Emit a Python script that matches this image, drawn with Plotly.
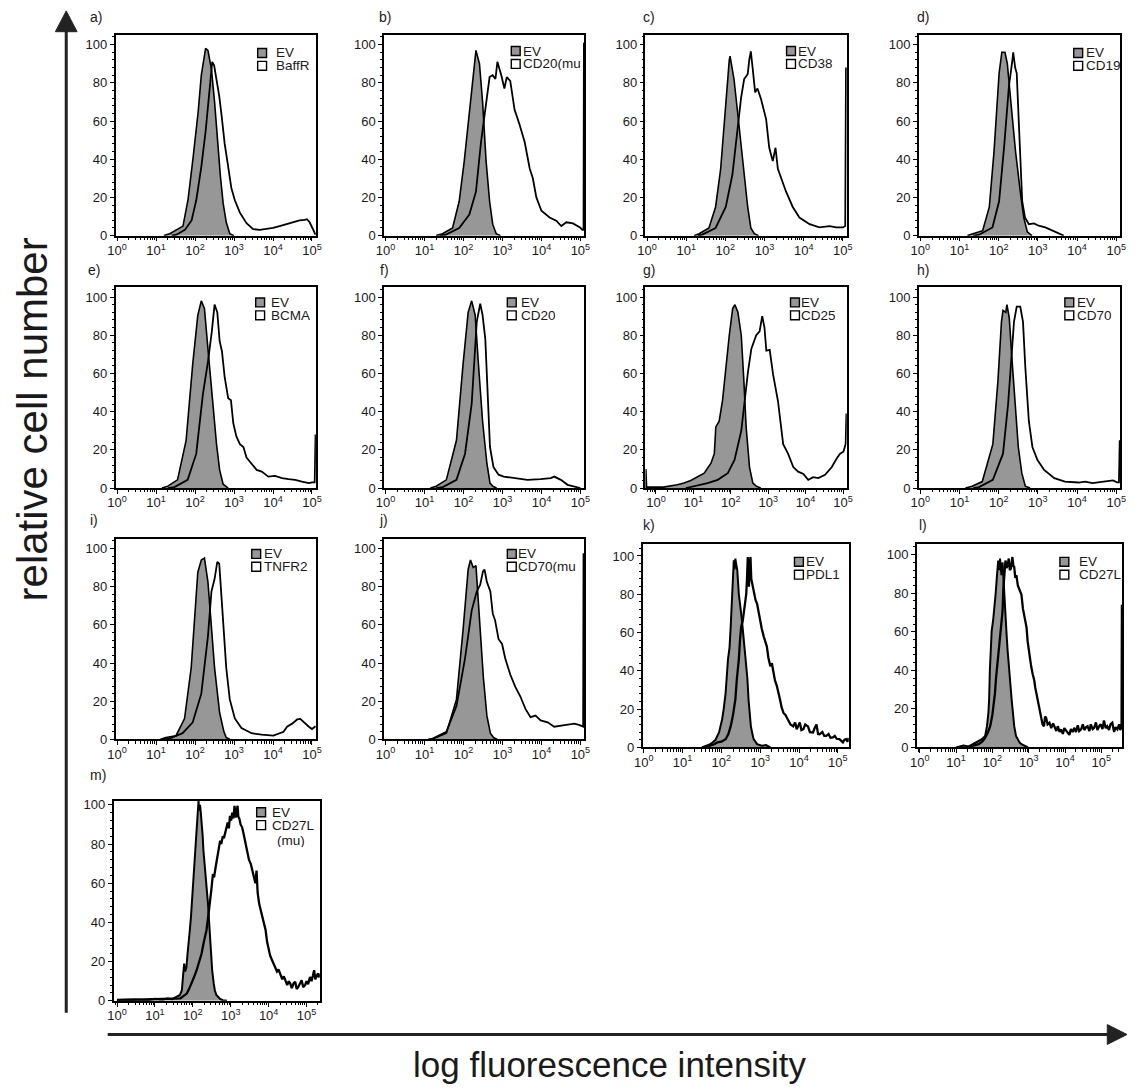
import plotly.graph_objects as go

W, H = 1135, 1091

# ---------------- DATA: (log10 fluorescence, relative cell number) ----------------
a_ev = [(1.20, 0), (1.35, 1), (1.69, 5), (1.82, 19), (1.95, 41), (2.08, 65), (2.16, 84), (2.25, 96), (2.27, 98),
        (2.33, 97), (2.42, 87), (2.50, 70), (2.59, 46), (2.65, 31), (2.72, 17), (2.80, 7), (2.89, 1), (3.00, 0)]
a_mk = [(1.40, 0), (1.52, 0.5), (1.74, 3), (1.91, 8), (2.03, 18.5), (2.16, 36), (2.27, 54.5), (2.36, 72), (2.42, 87),
        (2.44, 91), (2.49, 89), (2.55, 82), (2.62, 73), (2.68, 63), (2.76, 48), (2.85, 36), (2.93, 25), (3.02, 18.5),
        (3.15, 12), (3.32, 6.5), (3.49, 3.4), (3.66, 3), (3.83, 3.4), (4.00, 4), (4.17, 5), (4.34, 6), (4.51, 7),
        (4.68, 8), (4.81, 8.2), (4.87, 8.6), (4.94, 7), (5.03, 3), (5.09, 0.5)]

b_ev = [(1.30, 0), (1.46, 1), (1.72, 4), (1.89, 18), (2.02, 39), (2.15, 65), (2.24, 84), (2.32, 97), (2.41, 90),
        (2.49, 70), (2.58, 39), (2.67, 18), (2.75, 6), (2.84, 1), (2.95, 0)]
b_mk = [(1.40, 0), (1.55, 0.5), (1.89, 4), (2.15, 11), (2.32, 23), (2.45, 49), (2.54, 63), (2.67, 83), (2.75, 84),
        (2.82, 82), (2.87, 91), (2.97, 84), (3.05, 77), (3.11, 83), (3.20, 81), (3.31, 66), (3.44, 58), (3.57, 49),
        (3.70, 35), (3.78, 30), (3.87, 20), (4.00, 13), (4.21, 9.5), (4.38, 7.8), (4.51, 5), (4.64, 7), (4.81, 6.4),
        (4.99, 4.3), (5.05, 3), (5.08, 3), (5.09, 101)]

c_ev = [(1.20, 0), (1.33, 1), (1.58, 4), (1.75, 15), (1.88, 35), (1.99, 65), (2.10, 92), (2.12, 94), (2.22, 82),
        (2.31, 65), (2.40, 47), (2.48, 30), (2.57, 15), (2.65, 4), (2.74, 1), (2.85, 0)]
c_mk = [(1.30, 0), (1.41, 0.5), (1.75, 4), (2.01, 15), (2.18, 32), (2.31, 56), (2.40, 72), (2.48, 82), (2.57, 84.5),
        (2.61, 92), (2.65, 96.5), (2.70, 87), (2.76, 75), (2.82, 77), (2.91, 71.5), (3.04, 61), (3.12, 46), (3.21, 39),
        (3.28, 46), (3.34, 35), (3.42, 30), (3.55, 23), (3.72, 15), (3.89, 9.5), (4.15, 6), (4.40, 4.3), (4.66, 5),
        (4.83, 4.3), (5.00, 4.3), (5.06, 5), (5.08, 88)]

d_ev = [(1.20, 0), (1.34, 1), (1.59, 2.6), (1.76, 15), (1.88, 44), (2.01, 85), (2.08, 96), (2.16, 96), (2.22, 90),
        (2.31, 70), (2.43, 44), (2.56, 21.5), (2.64, 9.5), (2.73, 2), (2.85, 0)]
d_mk = [(1.35, 0), (1.50, 0.5), (1.84, 4.3), (2.01, 18), (2.14, 47), (2.26, 78), (2.35, 92), (2.37, 96), (2.42, 88),
        (2.46, 85), (2.52, 56), (2.60, 18), (2.67, 9.5), (2.77, 6), (2.90, 6.4), (3.02, 5.2), (3.19, 4.3), (3.36, 2.6),
        (3.53, 1), (3.66, 0)]

e_ev = [(1.15, 0), (1.30, 1), (1.55, 4.3), (1.77, 25), (1.94, 65), (2.07, 90.5), (2.16, 98), (2.24, 94), (2.33, 73),
        (2.43, 49), (2.55, 23), (2.63, 9.5), (2.72, 2), (2.85, 0)]
e_mk = [(1.30, 0), (1.47, 0.5), (1.81, 4.3), (2.03, 18), (2.20, 49), (2.33, 66), (2.43, 82), (2.50, 96), (2.57, 92),
        (2.63, 77), (2.69, 71.5), (2.76, 58), (2.85, 47), (2.92, 46), (2.98, 34), (3.06, 27), (3.15, 23), (3.24, 21.5),
        (3.32, 16), (3.45, 13), (3.58, 9.5), (3.71, 8.6), (3.88, 6), (4.05, 6.4), (4.23, 5.2), (4.40, 4.7),
        (4.57, 4.3), (4.74, 3.4), (4.92, 2.6), (5.00, 3), (5.07, 3), (5.09, 28)]

f_ev = [(1.15, 0), (1.30, 1), (1.56, 4.3), (1.82, 25), (1.99, 65), (2.12, 92), (2.21, 98), (2.30, 90.5), (2.38, 66),
        (2.49, 35), (2.60, 13), (2.68, 2.6), (2.75, 1), (2.85, 0)]
f_mk = [(1.30, 0), (1.47, 0.5), (1.82, 4.3), (2.04, 18), (2.21, 44), (2.30, 70), (2.34, 87), (2.43, 96.5), (2.49, 90.5),
        (2.56, 78), (2.62, 49), (2.68, 21.5), (2.77, 11), (2.90, 7), (3.03, 6), (3.29, 5.2), (3.64, 4.3), (3.98, 4.7),
        (4.24, 5.2), (4.33, 6), (4.50, 4.3), (4.67, 1.7), (4.85, 0.9), (4.93, 0.3), (5.00, 0)]

g_ev = [(-0.28, 0), (-0.27, 10), (-0.25, 0.5), (0.20, 0.5), (0.57, 1.7), (0.75, 2.6), (0.93, 4), (1.11, 5.7),
        (1.29, 7.8), (1.47, 13), (1.56, 18), (1.60, 32), (1.69, 35), (1.78, 46), (1.87, 65), (1.96, 80), (2.05, 94),
        (2.11, 96), (2.19, 92), (2.28, 80), (2.35, 56), (2.41, 32), (2.50, 11), (2.59, 2.6), (2.68, 1), (2.80, 0)]
g_mk = [(0.80, 0), (0.93, 0.5), (1.38, 2.6), (1.65, 4.3), (1.92, 7.8), (2.10, 14.7), (2.28, 30), (2.46, 61), (2.55, 73),
        (2.68, 80), (2.77, 82), (2.84, 90), (2.90, 84), (2.95, 72), (3.04, 72.4), (3.13, 59.5), (3.26, 45.7),
        (3.40, 23), (3.53, 18), (3.67, 11), (3.80, 8.6), (3.94, 7.4), (4.07, 4.3), (4.20, 5.7), (4.34, 5.2),
        (4.52, 6.9), (4.70, 11), (4.83, 15.5), (4.92, 18), (5.01, 19), (5.07, 23), (5.09, 39)]

h_ev = [(1.15, 0), (1.32, 1), (1.58, 3.4), (1.85, 23), (1.98, 56), (2.07, 87), (2.11, 93), (2.18, 92), (2.21, 96),
        (2.27, 89), (2.33, 70), (2.42, 46), (2.50, 21.5), (2.59, 7.8), (2.68, 1), (2.80, 0)]
h_mk = [(1.35, 0), (1.50, 0.5), (1.85, 4.3), (2.11, 18), (2.24, 44), (2.33, 70), (2.39, 87), (2.46, 95), (2.55, 95),
        (2.62, 87), (2.68, 63), (2.77, 35), (2.86, 21.5), (2.99, 14.7), (3.16, 9.5), (3.42, 5.2), (3.69, 3.4),
        (4.04, 2.9), (4.21, 3.4), (4.39, 2.6), (4.65, 3.4), (4.92, 4), (5.02, 3), (5.07, 3), (5.09, 25)]

i_ev = [(1.10, 0), (1.25, 1), (1.51, 2), (1.73, 11), (1.90, 37.5), (2.07, 87.5), (2.16, 94), (2.24, 95), (2.33, 82.5),
        (2.42, 61), (2.50, 37.5), (2.63, 14), (2.74, 4), (2.80, 1), (2.90, 0)]
i_mk = [(1.20, 0), (1.34, 0.5), (1.68, 3.3), (1.94, 9), (2.16, 24), (2.33, 54), (2.42, 77.5), (2.50, 84), (2.57, 93),
        (2.62, 92), (2.68, 74), (2.74, 57.5), (2.80, 37.5), (2.89, 21), (3.02, 11), (3.19, 6), (3.45, 3.3),
        (3.71, 2.5), (4.01, 2), (4.27, 4), (4.36, 6.7), (4.49, 8.3), (4.62, 10.5), (4.70, 10.8), (4.79, 9),
        (4.92, 6.7), (5.00, 5.5), (5.09, 7)]

j_ev = [(1.15, 0), (1.30, 1), (1.56, 3.3), (1.82, 21), (1.99, 57.5), (2.12, 89), (2.18, 94), (2.25, 90), (2.32, 91),
        (2.41, 62.5), (2.51, 32.5), (2.60, 12.5), (2.69, 3.3), (2.77, 1), (2.87, 0)]
j_mk = [(1.10, 0), (1.21, 0.5), (1.56, 4), (1.82, 17.5), (2.04, 42.5), (2.21, 67.5), (2.34, 77.5), (2.43, 81),
        (2.50, 88), (2.54, 89), (2.60, 82.5), (2.69, 77.5), (2.75, 66), (2.81, 62.5), (2.90, 52.5), (2.99, 50),
        (3.07, 42.5), (3.20, 34), (3.33, 27.5), (3.46, 22.5), (3.59, 16), (3.72, 11.7), (3.85, 12.5), (3.98, 10),
        (4.16, 9), (4.33, 6.7), (4.59, 7.5), (4.85, 8.3), (4.98, 7.5), (5.04, 6.7), (5.07, 6.7), (5.08, 97.5)]

k_ev = [(1.50, 0), (1.56, 0.5), (1.70, 1.5), (1.77, 2.6), (1.85, 4), (1.94, 7.8), (2.02, 14.7), (2.06, 20),
        (2.11, 28.5), (2.17, 46), (2.21, 52), (2.24, 63), (2.28, 80), (2.30, 88), (2.32, 97.8), (2.34, 93),
        (2.36, 98.6), (2.38, 96), (2.41, 92.6), (2.45, 80), (2.48, 76), (2.51, 70), (2.55, 62), (2.58, 56), (2.61, 50),
        (2.64, 42), (2.67, 36), (2.70, 25), (2.73, 18), (2.76, 11), (2.80, 7), (2.83, 4.3), (2.92, 1.7), (3.04, 0.9),
        (3.15, 1.2), (3.26, 0)]
k_mk = [(1.60, 0), (1.64, 0.5), (1.80, 1.5), (1.90, 2.6), (2.00, 3), (2.11, 4.3), (2.18, 7), (2.24, 11), (2.30, 17),
        (2.36, 25), (2.40, 36), (2.45, 46), (2.48, 56), (2.51, 63), (2.55, 66), (2.58, 70), (2.61, 74), (2.64, 80),
        (2.66, 88), (2.68, 99.5), (2.70, 90), (2.71, 84), (2.73, 95), (2.75, 99.5), (2.77, 88), (2.79, 85.6),
        (2.82, 83), (2.85, 80), (2.88, 77), (2.92, 75), (2.96, 70), (3.00, 66.6), (3.04, 62), (3.09, 58), (3.13, 55),
        (3.17, 52.8), (3.21, 47), (3.26, 42.4), (3.30, 44), (3.34, 39), (3.38, 35), (3.43, 32), (3.47, 29), (3.51, 25),
        (3.55, 21), (3.60, 18), (3.65, 17), (3.72, 14.7), (3.78, 12), (3.85, 11), (3.90, 13), (3.94, 9.5), (3.98, 11),
        (4.02, 13), (4.06, 9), (4.11, 9.5), (4.16, 12), (4.23, 11), (4.28, 8), (4.36, 7.8), (4.40, 10), (4.45, 12),
        (4.49, 7), (4.53, 6.9), (4.60, 8), (4.65, 6), (4.70, 6), (4.76, 7), (4.81, 5), (4.87, 5.2), (4.92, 6),
        (4.97, 4.5), (5.04, 4.3), (5.09, 3.5), (5.13, 2.6), (5.17, 4), (5.21, 4.3), (5.25, 3), (5.28, 5)]

l_ev = [(1.00, 0), (1.20, 1), (1.35, 0.5), (1.53, 2.6), (1.71, 4.3), (1.80, 6), (1.85, 11), (1.89, 18), (1.91, 25),
        (1.93, 40), (1.94, 45), (1.96, 52), (1.98, 60.5), (2.02, 66), (2.05, 70.7), (2.09, 80), (2.12, 87.7),
        (2.14, 94), (2.16, 97), (2.19, 92), (2.21, 98), (2.23, 93), (2.25, 89.4), (2.28, 96), (2.30, 88), (2.33, 79),
        (2.36, 68), (2.39, 58.8), (2.42, 50), (2.45, 41.7), (2.49, 33), (2.53, 24.7), (2.57, 17), (2.60, 11),
        (2.65, 6), (2.69, 4.3), (2.75, 2.5), (2.80, 1.7), (2.90, 0.8), (2.98, 0)]
l_mk = [(1.30, 0), (1.45, 0.8), (1.62, 1.7), (1.72, 3), (1.80, 5), (1.88, 8), (1.94, 11), (2.00, 17), (2.04, 22),
        (2.07, 28), (2.10, 36), (2.13, 42), (2.16, 48.5), (2.20, 56), (2.24, 62), (2.26, 66), (2.28, 70.7), (2.30, 82),
        (2.33, 91), (2.36, 97), (2.39, 93), (2.42, 94.5), (2.45, 98), (2.48, 92), (2.51, 92.8), (2.55, 98.8),
        (2.58, 94), (2.60, 93.7), (2.63, 88), (2.66, 89.4), (2.70, 84), (2.73, 82.6), (2.77, 80), (2.80, 79.2),
        (2.84, 72), (2.87, 69), (2.90, 66), (2.94, 62.2), (2.97, 55), (3.00, 50.3), (3.04, 45), (3.07, 41.7),
        (3.11, 38), (3.15, 35), (3.18, 31), (3.21, 28), (3.24, 25), (3.27, 23), (3.31, 18), (3.35, 14.5), (3.38, 12),
        (3.42, 11), (3.45, 16), (3.48, 15.3), (3.52, 12), (3.57, 12.8), (3.62, 10), (3.67, 12.5), (3.71, 11),
        (3.76, 8.5), (3.80, 11), (3.85, 8), (3.89, 9.4), (3.94, 7), (3.98, 10), (4.03, 9), (4.07, 7.7), (4.12, 6.5),
        (4.16, 9.5), (4.21, 8), (4.25, 10.2), (4.30, 8), (4.35, 11.5), (4.39, 8.5), (4.44, 9.4), (4.49, 12), (4.53, 9),
        (4.58, 10.5), (4.62, 11), (4.67, 8.5), (4.71, 12), (4.76, 9.5), (4.80, 10.2), (4.85, 13), (4.89, 9), (4.94, 11),
        (4.98, 12), (5.03, 9.5), (5.07, 14), (5.12, 10), (5.16, 11), (5.21, 9), (5.25, 12), (5.30, 12.8), (5.35, 8),
        (5.39, 10.5), (5.44, 9.4), (5.49, 12), (5.52, 9), (5.555, 11), (5.565, 74)]

m_ev = [(0.00, 0.5), (0.46, 0.7), (0.80, 0.3), (1.00, 1), (1.20, 0.5), (1.32, 1.2), (1.45, 0.8), (1.58, 2), (1.66, 3),
        (1.71, 5.4), (1.74, 12), (1.77, 19), (1.80, 15), (1.83, 17), (1.86, 24), (1.89, 29), (1.92, 36), (1.95, 42.7),
        (1.99, 55), (2.02, 64.7), (2.04, 70), (2.06, 78), (2.09, 88), (2.12, 95), (2.14, 99), (2.15, 102), (2.17, 97),
        (2.19, 100), (2.21, 96), (2.23, 92), (2.26, 84), (2.28, 76.6), (2.31, 70), (2.34, 64.7), (2.37, 57),
        (2.40, 49.5), (2.43, 40), (2.45, 32.5), (2.48, 24), (2.51, 15.6), (2.55, 9), (2.58, 5.4), (2.62, 3), (2.66, 2),
        (2.72, 1), (2.79, 0.3), (2.90, 0)]
m_mk = [(0.00, 0.3), (0.50, 0.5), (1.00, 0.8), (1.32, 1), (1.50, 0.8), (1.67, 1.2), (1.76, 2.5), (1.84, 3.7),
        (1.90, 6), (1.97, 8.8), (2.03, 12), (2.10, 15.6), (2.16, 20), (2.23, 24), (2.29, 30), (2.36, 36), (2.40, 42),
        (2.45, 49.5), (2.49, 57), (2.53, 64.7), (2.56, 63), (2.60, 68), (2.63, 72), (2.66, 75), (2.69, 79),
        (2.72, 81.7), (2.75, 80), (2.79, 84), (2.82, 83), (2.86, 86.8), (2.89, 89), (2.92, 91), (2.95, 88),
        (2.98, 94.4), (3.01, 92), (3.04, 96), (3.07, 93), (3.10, 99.5), (3.12, 95), (3.14, 93.6), (3.16, 97),
        (3.18, 99.5), (3.20, 94), (3.23, 92.7), (3.26, 90), (3.30, 88.5), (3.33, 86), (3.36, 83.4), (3.40, 79),
        (3.44, 75), (3.48, 72), (3.53, 69.8), (3.57, 66), (3.62, 63), (3.65, 60), (3.68, 66.4), (3.71, 55),
        (3.75, 49.5), (3.79, 46), (3.83, 42.7), (3.87, 40), (3.92, 36), (3.96, 30), (4.00, 25.8), (4.04, 23),
        (4.09, 20.7), (4.13, 19), (4.18, 17.3), (4.22, 15), (4.26, 16), (4.31, 13.9), (4.36, 11), (4.40, 12.5),
        (4.44, 10.5), (4.49, 8), (4.53, 10), (4.57, 8.8), (4.61, 6.5), (4.66, 9), (4.70, 9.7), (4.74, 6), (4.78, 7.1),
        (4.82, 9), (4.87, 10.5), (4.91, 7), (4.96, 8), (5.00, 10), (5.04, 8.5), (5.09, 12.2), (5.13, 10), (5.17, 13),
        (5.20, 15.6), (5.23, 11), (5.26, 12.2), (5.30, 14), (5.33, 12), (5.35, 13.9)]

panel_letters = ["a)", "b)", "c)", "d)", "e)", "f)", "g)", "h)", "i)", "j)", "k)", "l)", "m)"]
control_name = "EV"
marker_names = ["BaffR", "CD20(mu", "CD38", "CD19", "BCMA", "CD20", "CD25", "CD70", "TNFR2", "CD70(mu",
                "PDL1", "CD27L", "CD27L"]
marker_extra = {12: "(mu)"}
x_tick_exps = [0, 1, 2, 3, 4, 5]
x_tick_text = ["10<sup>%d</sup>" % e for e in x_tick_exps]
y_tick_vals = [0, 20, 40, 60, 80, 100]
y_axis_title = "relative cell number"
x_axis_title = "log fluorescence intensity"

series_ev = [a_ev, b_ev, c_ev, d_ev, e_ev, f_ev, g_ev, h_ev, i_ev, j_ev, k_ev, l_ev, m_ev]
series_mk = [a_mk, b_mk, c_mk, d_mk, e_mk, f_mk, g_mk, h_mk, i_mk, j_mk, k_mk, l_mk, m_mk]

# ---------------- LAYOUT (pixels) ----------------
# left, right, top, bottom, x-range (log10), y-range
geom = [
    (108, 311, 32, 235, [-0.04, 5.1], [0, 105.2]),
    (380, 583, 32, 235, [-0.04, 5.1], [0, 105.2]),
    (645, 849, 32, 235, [-0.04, 5.1], [0, 105.2]),
    (922, 1126, 32, 235, [-0.04, 5.1], [0, 105.2]),
    (108, 311, 287, 490, [-0.04, 5.1], [0, 105.2]),
    (380, 583, 287, 490, [-0.04, 5.1], [0, 105.2]),
    (645, 849, 287, 490, [-0.28, 5.1], [0, 105.2]),
    (922, 1126, 287, 490, [-0.04, 5.1], [0, 105.2]),
    (108, 311, 541, 744, [-0.04, 5.1], [0, 105.2]),
    (380, 583, 541, 744, [-0.04, 5.1], [0, 105.2]),
    (642, 851, 547, 752, [-0.03, 5.28], [0, 106]),
    (920, 1128, 547, 752, [-0.08, 5.57], [0, 105.3]),
    (106, 315, 806, 1008, [-0.09, 5.35], [0, 102]),
]
# panel label (x left, y center)
label_pos = [(80, 14), (373, 14), (640, 14), (918, 14), (78, 270), (374, 270), (640, 270), (918, 270),
             (80, 522), (373, 522), (640, 527), (920, 527), (80, 780)]
# legend: square left x, first square top y, text x
legend_pos = [(252, 46, 269), (509, 44, 519), (788, 44, 798), (1079, 46, 1089), (250, 298, 263), (505, 298, 517),
              (792, 298, 801), (1070, 298, 1080), (246, 552, 256), (505, 552, 514), (796, 560, 806),
              (1065, 560, 1082), (251, 813, 265)]

FONT = "Liberation Sans, Arial, Helvetica, sans-serif"
INK = "#1a1a1a"
GRAY = "#979797"


def px(x):
    return x / W


def py(y):
    return 1 - y / H


fig = go.Figure()
layout = {}
annotations = []
shapes = []

minor_vals = [m * 10 ** e for e in range(-1, 6) for m in range(2, 10)]

for i in range(13):
    n = i + 1
    xr = "x" if n == 1 else "x%d" % n
    yr = "y" if n == 1 else "y%d" % n
    xa = "xaxis" if n == 1 else "xaxis%d" % n
    ya = "yaxis" if n == 1 else "yaxis%d" % n
    l, r, t, b, xrng, yrng = geom[i]
    noisy = i >= 10
    ev = series_ev[i]
    mk = series_mk[i]
    fig.add_trace(go.Scatter(
        x=[10 ** v for v, _ in ev], y=[w for _, w in ev], xaxis=xr, yaxis=yr, mode="lines",
        line=dict(color="black", width=2.0 if noisy else 1.6), fill="tozeroy", fillcolor=GRAY,
        showlegend=False, hoverinfo="skip"))
    fig.add_trace(go.Scatter(
        x=[10 ** v for v, _ in mk], y=[w for _, w in mk], xaxis=xr, yaxis=yr, mode="lines",
        line=dict(color="black", width=2.3 if noisy else 1.8),
        showlegend=False, hoverinfo="skip"))

    layout[xa] = dict(
        type="log", range=xrng, domain=[px(l), px(r)], anchor=yr,
        showline=True, mirror=True, linecolor="black", linewidth=1.5,
        ticks="outside", ticklen=4, tickwidth=1.2, tickcolor="black",
        tickvals=[10 ** e for e in x_tick_exps], ticktext=x_tick_text,
        tickfont=dict(family=FONT, size=13, color=INK), ticklabelstandoff=-2,
        showgrid=False, zeroline=False,
        minor=dict(tickvals=minor_vals, ticks="outside", ticklen=2.5, tickwidth=1, tickcolor="black",
                   showgrid=False),
    )
    layout[ya] = dict(
        range=yrng, domain=[py(b), py(t)], anchor=xr,
        showline=True, mirror=True, linecolor="black", linewidth=1.5,
        ticks="outside", ticklen=4, tickwidth=1.2, tickcolor="black",
        tickvals=y_tick_vals, tickfont=dict(family=FONT, size=13, color=INK),
        showgrid=False, zeroline=False,
        minor=dict(dtick=4, tick0=0, ticks="outside", ticklen=2, tickwidth=1, tickcolor="black",
                   showgrid=False),
    )

    # panel letter
    lx, ly = label_pos[i]
    annotations.append(dict(x=px(lx), y=py(ly), xref="paper", yref="paper", text=panel_letters[i],
                            showarrow=False, xanchor="left", yanchor="middle",
                            font=dict(family=FONT, size=14, color=INK)))
    # legend squares + text
    sx, sy, tx = legend_pos[i]
    sq = 9
    gap = 13
    shapes.append(dict(type="rect", xref="paper", yref="paper", x0=px(sx), x1=px(sx + sq),
                       y0=py(sy + sq), y1=py(sy), fillcolor=GRAY, line=dict(color="black", width=1.4)))
    shapes.append(dict(type="rect", xref="paper", yref="paper", x0=px(sx), x1=px(sx + sq),
                       y0=py(sy + gap + sq), y1=py(sy + gap), fillcolor="white",
                       line=dict(color="black", width=1.4)))
    annotations.append(dict(x=px(tx), y=py(sy + sq / 2), xref="paper", yref="paper", text=control_name,
                            showarrow=False, xanchor="left", yanchor="middle", height=13,
                            font=dict(family=FONT, size=13.5, color=INK)))
    annotations.append(dict(x=px(tx), y=py(sy + gap + sq / 2), xref="paper", yref="paper", text=marker_names[i],
                            showarrow=False, xanchor="left", yanchor="middle", height=13,
                            font=dict(family=FONT, size=13.5, color=INK)))
    if i in marker_extra:
        annotations.append(dict(x=px(tx + 5), y=py(sy + 2 * gap + sq / 2 + 3), xref="paper", yref="paper",
                                text=marker_extra[i], showarrow=False, xanchor="left", yanchor="middle",
                                height=13, font=dict(family=FONT, size=13.5, color=INK)))

# big arrows
AR = "#222222"
shapes.append(dict(type="line", xref="paper", yref="paper", x0=px(58), x1=px(58), y0=py(1020), y1=py(26),
                   line=dict(color=AR, width=3)))
shapes.append(dict(type="path", xref="paper", yref="paper",
                   path="M %f,%f L %f,%f L %f,%f Z" % (px(58), py(8), px(47), py(29), px(69), py(29)),
                   fillcolor=AR, line=dict(color=AR, width=1)))
shapes.append(dict(type="line", xref="paper", yref="paper", x0=px(100), x1=px(1116), y0=py(1042), y1=py(1042),
                   line=dict(color=AR, width=3)))
shapes.append(dict(type="path", xref="paper", yref="paper",
                   path="M %f,%f L %f,%f L %f,%f Z" % (px(1133), py(1042), px(1113), py(1032), px(1113), py(1052)),
                   fillcolor=AR, line=dict(color=AR, width=1)))

annotations.append(dict(x=px(24), y=py(421), xref="paper", yref="paper", text=y_axis_title, textangle=-90,
                        showarrow=False, xanchor="center", yanchor="middle",
                        font=dict(family=FONT, size=42, color=INK)))
annotations.append(dict(x=px(609), y=py(1072), xref="paper", yref="paper", text=x_axis_title,
                        showarrow=False, xanchor="center", yanchor="middle",
                        font=dict(family=FONT, size=35, color=INK)))

fig.update_layout(
    width=W, height=H, margin=dict(l=0, r=0, t=0, b=0),
    paper_bgcolor="white", plot_bgcolor="white",
    showlegend=False, annotations=annotations, shapes=shapes,
    font=dict(family=FONT, color=INK),
    **layout,
)

fig.write_html("out.html")
